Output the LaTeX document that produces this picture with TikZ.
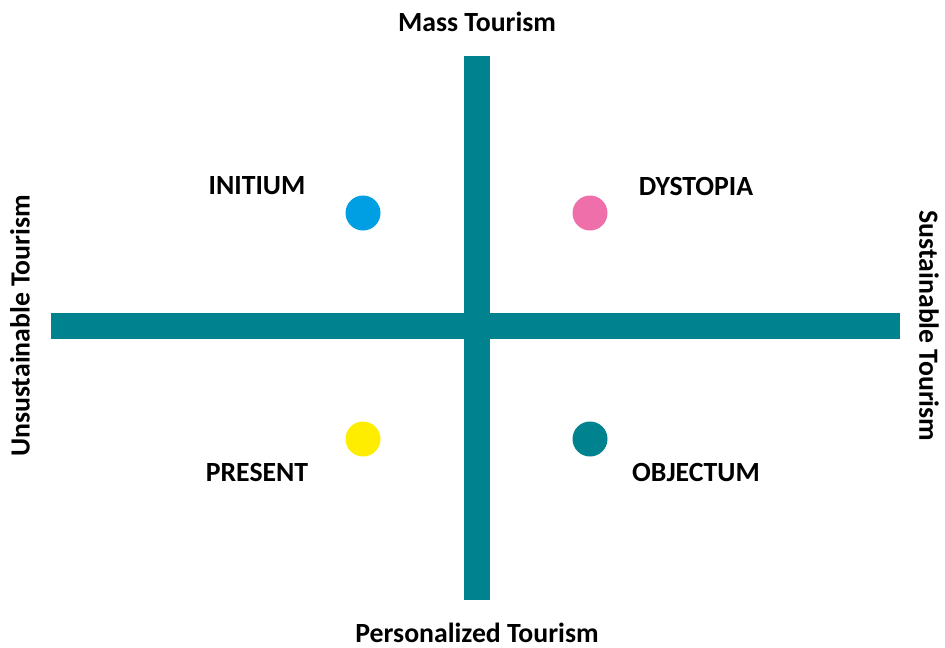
\documentclass[tikz,border=0pt]{standalone}
\usepackage{fontspec}
\setmainfont{Carlito}
\definecolor{q_teal}{HTML}{00838F}
\definecolor{q_blue}{HTML}{009FE3}
\definecolor{q_pink}{HTML}{EE6FA9}
\definecolor{q_yellow}{HTML}{FFED00}
\usetikzlibrary{positioning}

\begin{document}
\begin{tikzpicture}[
        x=0.02cm, y=-0.02cm,
        axis/.style={draw=q_teal, line width=0.52cm},
        dot/.style={circle, inner sep=0pt, minimum size=0.7cm},
        quad/.style={font=\bfseries\fontsize{15.8}{18}\selectfont, text=black},
        pole/.style={font=\bfseries\fontsize{15.8}{18}\selectfont, text=black, inner sep=0pt}]
    \useasboundingbox (0,0) rectangle (945,647);
        % axes
        \coordinate (top) at (477,56);
        \coordinate (bottom) at (477,600);
        \coordinate (left) at (51,326);
        \coordinate (right) at (900,326);
        \draw[axis] (left) -- (right);
        \draw[axis] (top) -- (bottom);
        % scenarios
        \node[dot, fill=q_blue] (initium) at (363,213) {};
        \node[dot, fill=q_pink] (dystopia) at (590,213) {};
        \node[dot, fill=q_yellow] (present) at (363,439) {};
        \node[dot, fill=q_teal] (objectum) at (590,439) {};
        \node[quad] (initiumL) at (257,186) {INITIUM};
        \node[quad] (dystopiaL) at (696,186) {DYSTOPIA};
        \node[quad] (presentL) at (257,472) {PRESENT};
        \node[quad] (objectumL) at (696,472) {OBJECTUM};
        % poles
        \node[pole] (mass) at (477,22) {Mass Tourism};
        \node[pole] (personal) at (477,633) {Personalized Tourism};
        \node[pole, rotate=90] (unsust) at (20,326) {Unsustainable Tourism};
        \node[pole, rotate=-90] (sust) at (929,326) {Sustainable Tourism};
    \end{tikzpicture}
\end{document}
